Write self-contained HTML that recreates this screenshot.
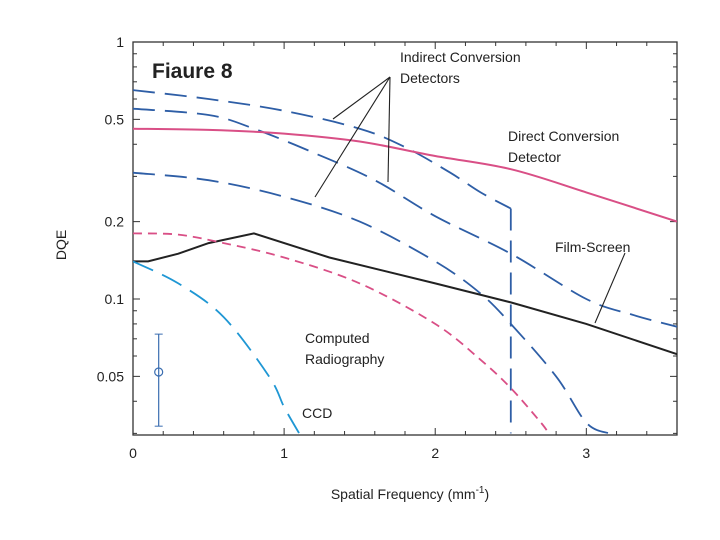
<!DOCTYPE html>
<html><head><meta charset="utf-8"><style>
body{margin:0;background:#fff;}
svg{display:block;font-family:"Liberation Sans",Arial,sans-serif;}
</style></head><body>
<svg id="c" width="720" height="540"></svg>
<script>
const xTicks=[0,1,2,3];
const yTickLabels=[[1,"1"],[0.5,"0.5"],[0.2,"0.2"],[0.1,"0.1"],[0.05,"0.05"]];
const indirect1=[[0,0.65],[0.5,0.6],[1,0.54],[1.5,0.46],[1.8,0.39],[2.1,0.31],[2.3,0.26],[2.5,0.225]];
const indirect1Drop=[[2.5,0.225],[2.5,0.03]];
const indirect2=[[0,0.55],[0.5,0.52],[0.8,0.46],[1.2,0.37],[1.6,0.29],[2,0.21],[2.5,0.15],[3,0.1],[3.3,0.087],[3.6,0.078]];
const indirect3=[[0,0.31],[0.5,0.29],[1,0.25],[1.5,0.2],[2,0.14],[2.3,0.105],[2.5,0.08],[2.8,0.05],[3,0.033],[3.15,0.03]];
const direct=[[0,0.46],[0.5,0.455],[1,0.44],[1.5,0.41],[2,0.36],[2.5,0.32],[3,0.26],[3.6,0.2]];
const filmScreen=[[0,0.14],[0.1,0.14],[0.3,0.15],[0.5,0.165],[0.8,0.18],[1.3,0.145],[2,0.115],[2.5,0.097],[3,0.08],[3.6,0.061]];
const computedRad=[[0,0.18],[0.3,0.178],[0.6,0.165],[1,0.145],[1.5,0.115],[2,0.08],[2.3,0.058],[2.5,0.045],[2.7,0.033],[2.75,0.03]];
const ccd=[[0,0.14],[0.3,0.115],[0.6,0.085],[0.9,0.05],[1,0.038],[1.1,0.03]];
const errPoint=[0.17,0.052,0.032,0.073];

const L=133,R=677,T=42,B=435;
const sx=v=>L+v*(R-L)/3.6;
const sy=v=>T-Math.log10(v)*257;
const svg=document.getElementById('c');
const NS='http://www.w3.org/2000/svg';
function mk(tag,attrs,parent){const e=document.createElementNS(NS,tag);for(const k in attrs)e.setAttribute(k,attrs[k]);(parent||svg).appendChild(e);return e;}
function txt(x,y,s,attrs){const e=mk('text',Object.assign({x:x,y:y,'font-size':14,fill:'#222'},attrs||{}));e.textContent=s;return e;}

const defs=mk('defs',{});const cp=mk('clipPath',{id:'pc'},defs);mk('rect',{x:L,y:T,width:R-L,height:B-T},cp);

const frame=mk('rect',{x:L,y:T,width:R-L,height:B-T,fill:'none',stroke:'#333','stroke-width':1.3});



for(let v=0;v<=3.6001;v+=0.2){const x=sx(v);const len=(Math.abs(v-Math.round(v))<1e-6)?7:4;
mk('line',{x1:x,y1:B,x2:x,y2:B-len,stroke:'#333'});mk('line',{x1:x,y1:T,x2:x,y2:T+len,stroke:'#333'});}
xTicks.forEach(v=>{const t=txt(sx(v),458,String(v),{'text-anchor':'middle'});

});
const minors=[0.03,0.04,0.05,0.06,0.07,0.08,0.09,0.1,0.2,0.3,0.4,0.5,0.6,0.7,0.8,0.9,1];
minors.forEach(v=>{const y=sy(v);const len=[0.1,1,0.5,0.2,0.05].includes(v)?7:4;
mk('line',{x1:L,y1:y,x2:L+len,y2:y,stroke:'#333'});mk('line',{x1:R,y1:y,x2:R-len,y2:y,stroke:'#333'});});
yTickLabels.forEach(([v,s])=>{const t=txt(124,sy(v)+5,s,{'text-anchor':'end'});

});

const g=mk('g',{'clip-path':'url(#pc)'});
function pathD(data,smooth){const p=data.map(d=>[sx(d[0]),sy(d[1])]);
if(!smooth||p.length<3)return p.map((q,i)=>(i?'L':'M')+q[0].toFixed(1)+','+q[1].toFixed(1)).join('');
let d='M'+p[0][0].toFixed(1)+','+p[0][1].toFixed(1);
for(let i=0;i<p.length-1;i++){const p0=p[Math.max(0,i-1)],p1=p[i],p2=p[i+1],p3=p[Math.min(p.length-1,i+2)];
const c1=[p1[0]+(p2[0]-p0[0])/6,p1[1]+(p2[1]-p0[1])/6],c2=[p2[0]-(p3[0]-p1[0])/6,p2[1]-(p3[1]-p1[1])/6];
d+='C'+c1.map(v=>v.toFixed(1)).join(',')+' '+c2.map(v=>v.toFixed(1)).join(',')+' '+p2.map(v=>v.toFixed(1)).join(',');}
return d;}
function line(data,color,dash,w,name,smooth){const p=mk('path',{d:pathD(data,smooth),fill:'none',stroke:color,'stroke-width':w,'stroke-dasharray':dash||'none'},g);

}
line(indirect1,'#2e5ea6','22 10',1.8,'indirect-line-1',true);
line(indirect1Drop,'#2e5ea6','22 10',1.8,'indirect-line-1-drop',false);
line(indirect2,'#2e5ea6','22 10',1.8,'indirect-line-2',true);
line(indirect3,'#2e5ea6','22 10',1.8,'indirect-line-3',true);
line(direct,'#d94f86','',2,'direct-conversion-line',true);
line(filmScreen,'#222','',2,'film-screen-line',false);
line(computedRad,'#d94f86','9 6',1.8,'computed-radiography-line',true);
line(ccd,'#1f97d4','22 10',1.8,'ccd-line',true);

const ex=sx(errPoint[0]);
mk('line',{x1:ex,y1:sy(errPoint[2]),x2:ex,y2:sy(errPoint[3]),stroke:'#3a6db0','stroke-width':1.2});
mk('line',{x1:ex-4,y1:sy(errPoint[2]),x2:ex+4,y2:sy(errPoint[2]),stroke:'#3a6db0'});
mk('line',{x1:ex-4,y1:sy(errPoint[3]),x2:ex+4,y2:sy(errPoint[3]),stroke:'#3a6db0'});
const eb=mk('circle',{cx:ex,cy:sy(errPoint[1]),r:4,fill:'none',stroke:'#3a6db0','stroke-width':1.2});



[[333,119],[315,197],[388,182]].forEach(([x,y])=>mk('line',{x1:390,y1:77,x2:x,y2:y,stroke:'#222','stroke-width':1.1}));
mk('line',{x1:625,y1:253,x2:595,y2:323,stroke:'#222','stroke-width':1.1});
const labels=[[152,78,'Fiaure 8',{'font-size':21,'font-weight':'bold'},'figure-title'],
[400,62,'Indirect Conversion',{},'indirect-label'],[400,83,'Detectors',{},'indirect-label-2'],
[508,141,'Direct Conversion',{},'direct-label'],[508,162,'Detector',{},'direct-label-2'],
[555,252,'Film-Screen',{},'film-screen-label'],
[305,343,'Computed',{},'cr-label'],[305,364,'Radiography',{},'cr-label-2'],
[302,418,'CCD',{},'ccd-label']];
labels.forEach(([x,y,s,a,n])=>{const t=txt(x,y,s,a);});
const yt=txt(0,0,'DQE',{transform:'translate(66,245) rotate(-90)','text-anchor':'middle'});


const xt=mk('text',{x:410,y:499,'font-size':14,fill:'#222','text-anchor':'middle'});
xt.innerHTML='Spatial Frequency (mm<tspan dy="-6" font-size="10">-1</tspan><tspan dy="6">)</tspan>';


</script>
</body></html>
